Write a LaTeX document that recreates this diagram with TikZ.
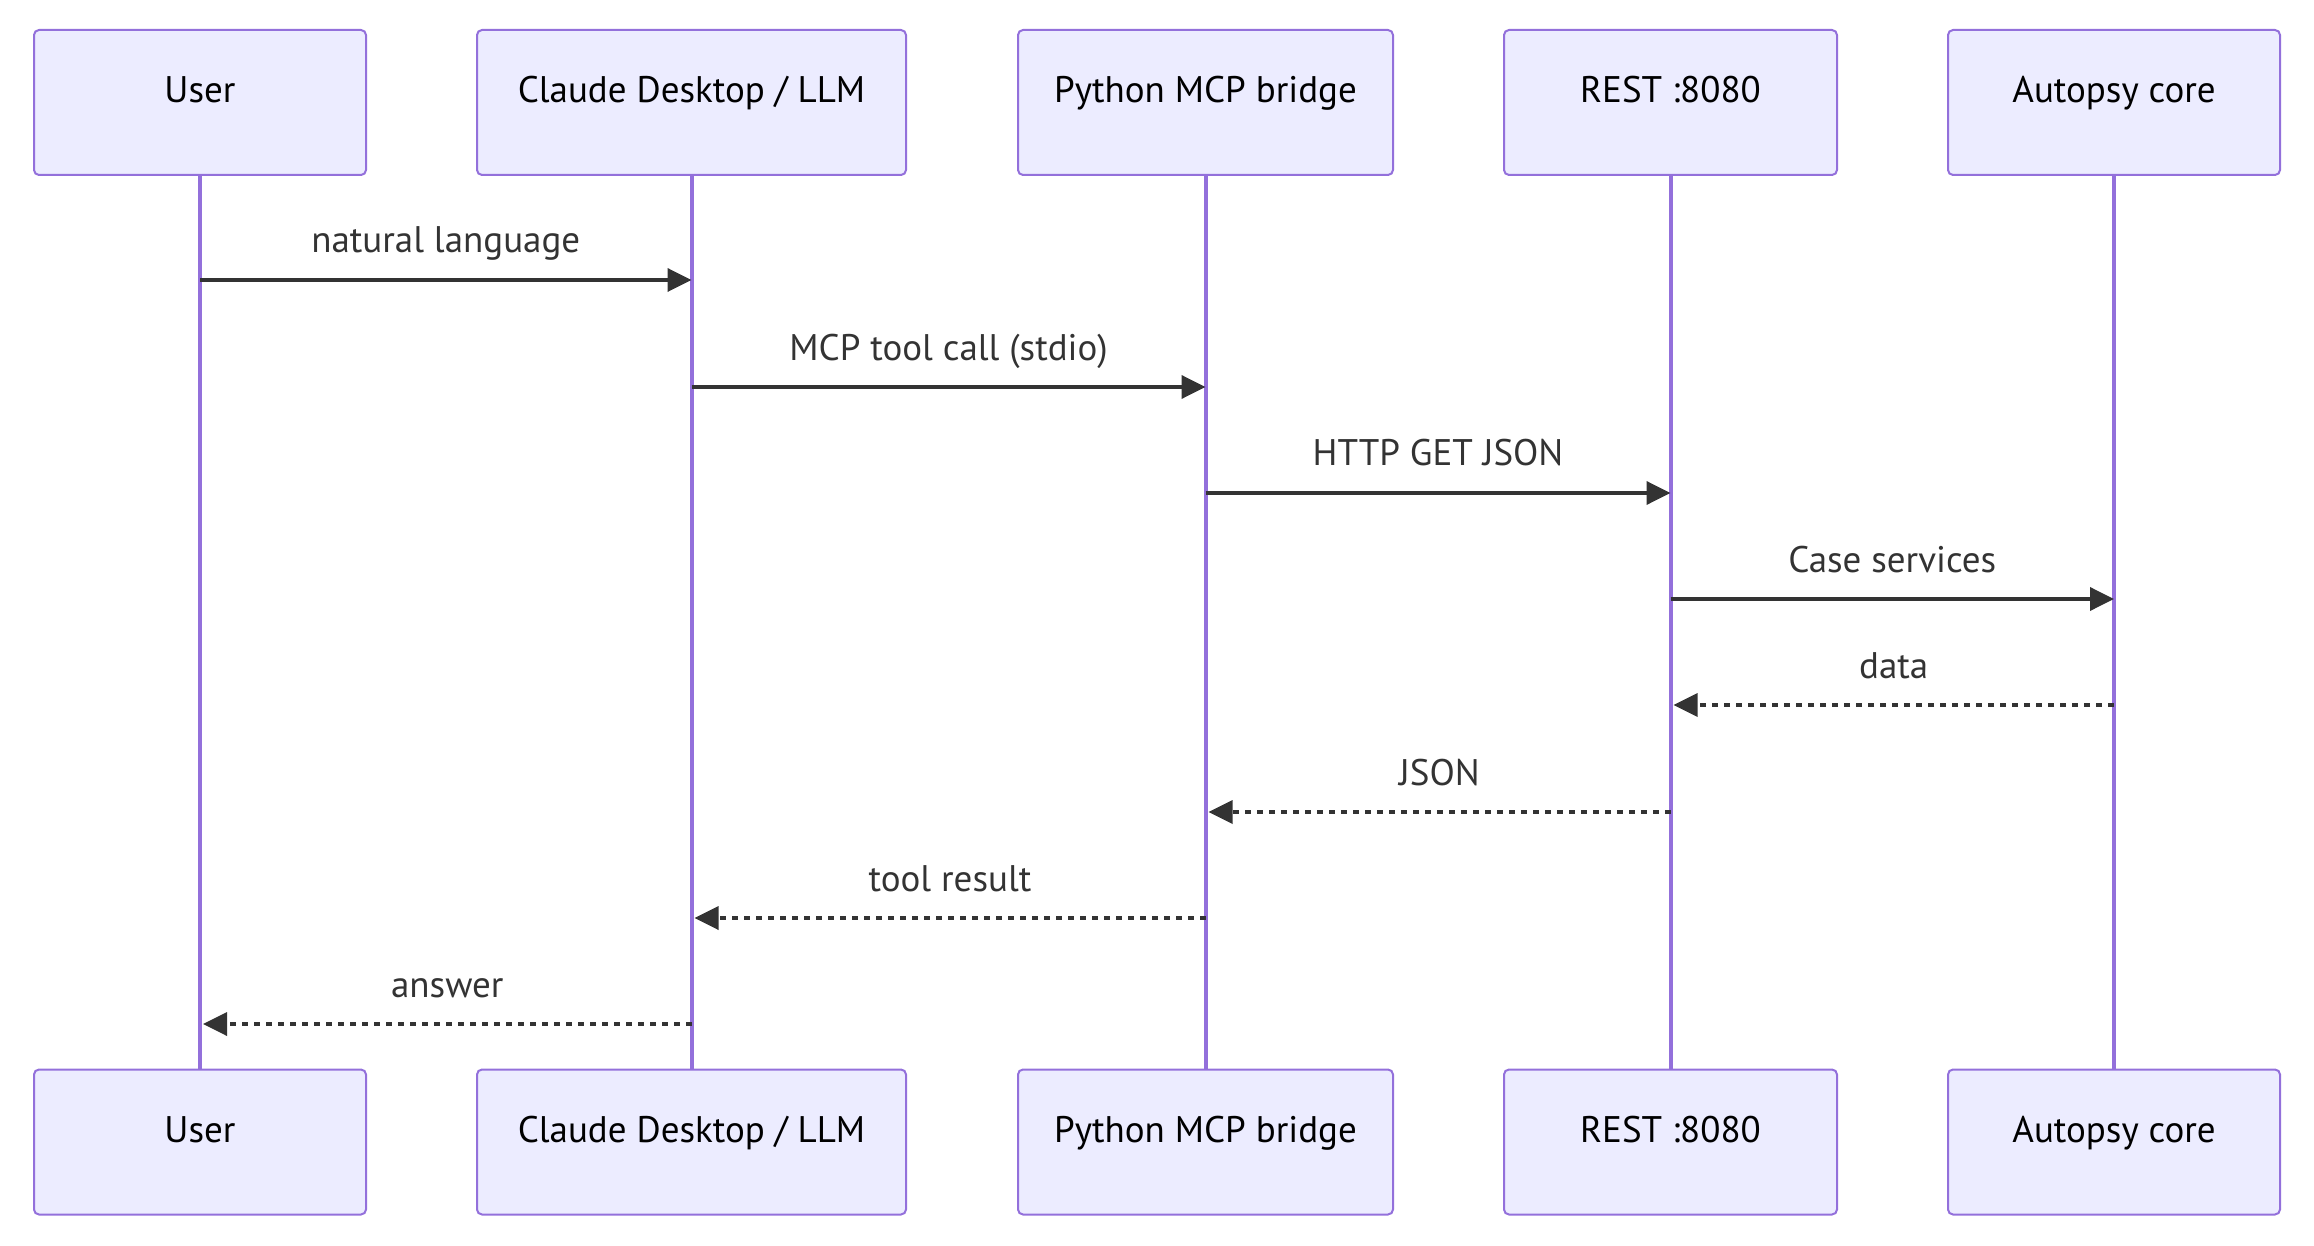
\documentclass[tikz,border=0pt]{standalone}
\usepackage{fontspec}
\setmainfont{PT Sans}
\usetikzlibrary{arrows.meta}
\definecolor{boxfill}{HTML}{ECECFF}
\definecolor{boxline}{HTML}{9370DB}
\definecolor{msgcol}{HTML}{333333}
\tikzset{
  actor/.style={draw=boxline, fill=boxfill, line width=1pt, rounded corners=2.5pt,
    minimum width=#1, minimum height=72.5pt, inner sep=0pt,
    text height=12pt, text depth=12pt, font=\fontsize{18.5}{22}\selectfont, text=black},
  lifeline/.style={draw=boxline, line width=2pt},
  msg/.style={draw=msgcol, line width=1.8pt, -{Triangle[length=12pt,width=11.5pt]}},
  reply/.style={msg, dash pattern=on 3pt off 3pt},
  msglabel/.style={midway, anchor=base, yshift=13.5pt, font=\fontsize{18.5}{22}\selectfont, text=msgcol, inner sep=0pt}
}
\begin{document}
\begin{tikzpicture}[x=0.5pt,y=-0.5pt]
\useasboundingbox (0,0) rectangle (2314,1246);
% top participants
\node[actor=166pt] (uT) at (200,102.5) {User};
\node[actor=214.5pt] (cT) at (691.5,102.5) {Claude Desktop / LLM};
\node[actor=187.5pt] (pT) at (1205.5,102.5) {Python MCP bridge};
\node[actor=166.5pt] (rT) at (1670.5,102.5) {REST :8080};
\node[actor=166pt] (aT) at (2114,102.5) {Autopsy core};
% bottom participants
\node[actor=166pt] (uB) at (200,1142) {User};
\node[actor=214.5pt] (cB) at (691.5,1142) {Claude Desktop / LLM};
\node[actor=187.5pt] (pB) at (1205.5,1142) {Python MCP bridge};
\node[actor=166.5pt] (rB) at (1670.5,1142) {REST :8080};
\node[actor=166pt] (aB) at (2114,1142) {Autopsy core};
% lifelines
\foreach \p in {u,c,p,r,a} {
  \draw[lifeline] (\p T.south) -- (\p B.north);
}
% message end points
\coordinate (m1a) at (uT.south |- 0,280);   \coordinate (m1b) at (cT.south |- 0,280);
\coordinate (m2a) at (cT.south |- 0,387);   \coordinate (m2b) at (pT.south |- 0,387);
\coordinate (m3a) at (pT.south |- 0,493);   \coordinate (m3b) at (rT.south |- 0,493);
\coordinate (m4a) at (rT.south |- 0,599);   \coordinate (m4b) at (aT.south |- 0,599);
\coordinate (m5a) at (aT.south |- 0,705);   \coordinate (m5b) at ([xshift=1.5pt]rT.south |- 0,705);
\coordinate (m6a) at (rT.south |- 0,812);   \coordinate (m6b) at ([xshift=1.5pt]pT.south |- 0,812);
\coordinate (m7a) at (pT.south |- 0,918);   \coordinate (m7b) at ([xshift=1.5pt]cT.south |- 0,918);
\coordinate (m8a) at (cT.south |- 0,1024);  \coordinate (m8b) at ([xshift=1.5pt]uT.south |- 0,1024);
% messages
\draw[msg] (m1a) -- node[msglabel] {natural language} (m1b);
\draw[msg] (m2a) -- node[msglabel] {MCP tool call (stdio)} (m2b);
\draw[msg] (m3a) -- node[msglabel] {HTTP GET JSON} (m3b);
\draw[msg] (m4a) -- node[msglabel] {Case services} (m4b);
\draw[reply] (m5a) -- node[msglabel] {data} (m5b);
\draw[reply] (m6a) -- node[msglabel] {JSON} (m6b);
\draw[reply] (m7a) -- node[msglabel] {tool result} (m7b);
\draw[reply] (m8a) -- node[msglabel] {answer} (m8b);
\end{tikzpicture}
\end{document}
